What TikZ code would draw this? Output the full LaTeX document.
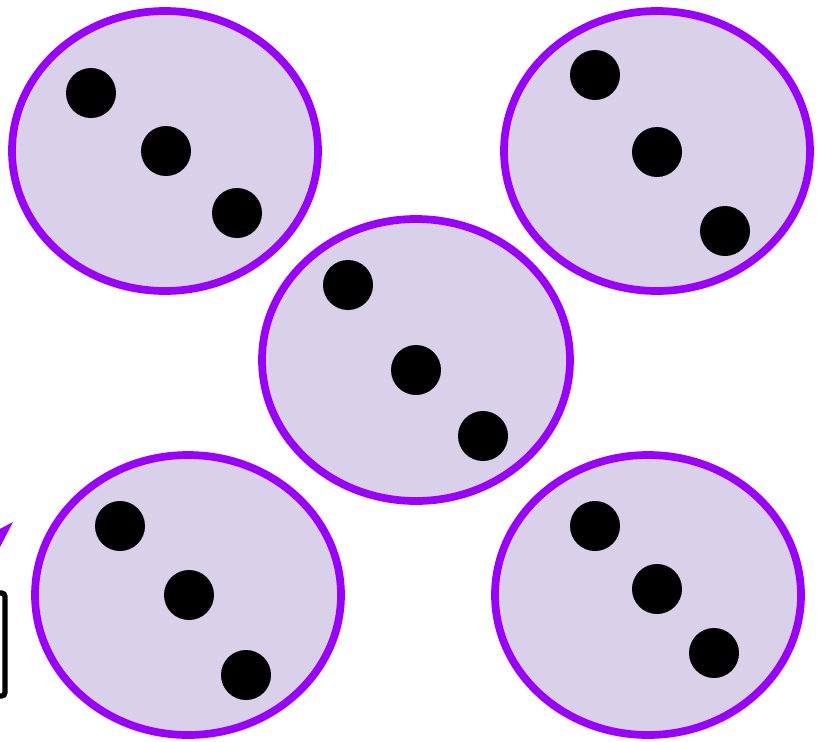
\documentclass[tikz,border=0pt]{standalone}
\usepackage{tikz}

\definecolor{cellfill}{HTML}{D9D0E9}
\definecolor{cellline}{HTML}{9900FF}

\tikzset{
    cell/.style={fill=cellfill, draw=cellline, line width=4.4pt},
    dot/.style={fill=black}
}

\begin{document}
\begin{tikzpicture}[x=0.02cm, y=-0.02cm]

            \useasboundingbox (0,0) rectangle (818,741);
            \clip (0,0) rectangle (818,741);

            % cells
            \draw[cell] (165,151) ellipse [x radius=153, y radius=140];
            \draw[cell] (657,151) ellipse [x radius=153, y radius=140];
            \draw[cell] (416,360) ellipse [x radius=154, y radius=141];
            \draw[cell] (188,595) ellipse [x radius=153, y radius=140];
            \draw[cell] (648,595) ellipse [x radius=153, y radius=140];

            % dots
            \fill[dot] (91,93) circle [radius=25];
            \fill[dot] (166,151) circle [radius=25];
            \fill[dot] (237,213) circle [radius=25];

            \fill[dot] (595,75) circle [radius=25];
            \fill[dot] (657,152) circle [radius=25];
            \fill[dot] (725,231) circle [radius=25];

            \fill[dot] (348,285) circle [radius=25];
            \fill[dot] (416,370) circle [radius=25];
            \fill[dot] (483,436) circle [radius=25];

            \fill[dot] (120,526) circle [radius=25];
            \fill[dot] (189,595) circle [radius=25];
            \fill[dot] (246,675) circle [radius=25];

            \fill[dot] (595,526) circle [radius=25];
            \fill[dot] (657,589) circle [radius=25];
            \fill[dot] (714,653) circle [radius=25];

            % cut-off pieces at the left edge
            \fill[cellline] (-6,532) -- (13,522) -- (0,547) -- cycle;
            \draw[line width=3pt, rounded corners=2pt] (-20,593) rectangle (5,696);

\end{tikzpicture}
\end{document}
